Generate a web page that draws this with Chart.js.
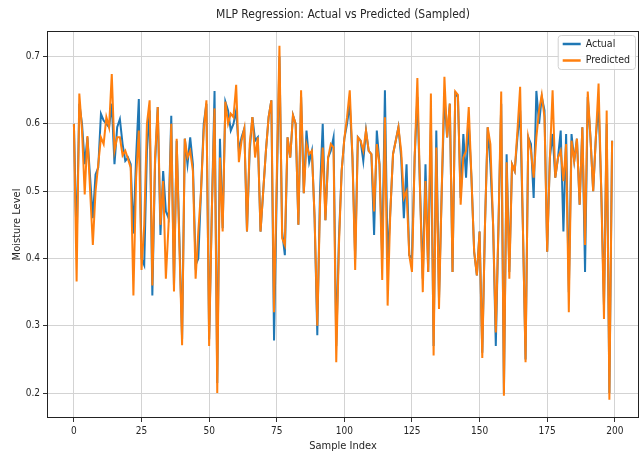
<!DOCTYPE html>
<html>
<head>
<meta charset="utf-8">
<script src="https://cdn.jsdelivr.net/npm/chart.js@4.4.1/dist/chart.umd.min.js"></script>
<style>
  html, body { margin: 0; padding: 0; background: #fff; }
</style>
</head>
<body>
<canvas id="mlpChart" width="640" height="455"></canvas>
<script>
// sample index 0..199
const sampleIndex = Array.from({ length: 200 }, (_, i) => i);

const actual = [
  0.600, 0.420, 0.630, 0.600, 0.540, 0.580, 0.520, 0.460, 0.525, 0.535,
  0.615, 0.605, 0.600, 0.595, 0.630, 0.540, 0.595, 0.607, 0.570, 0.545,
  0.550, 0.540, 0.437, 0.550, 0.637, 0.400, 0.390, 0.560, 0.620, 0.345,
  0.540, 0.625, 0.435, 0.530, 0.470, 0.460, 0.612, 0.360, 0.575, 0.430,
  0.280, 0.578, 0.540, 0.580, 0.540, 0.390, 0.400, 0.500, 0.600, 0.630,
  0.280, 0.470, 0.649, 0.215, 0.578, 0.445, 0.633, 0.620, 0.590, 0.600,
  0.620, 0.560, 0.580, 0.593, 0.440, 0.560, 0.610, 0.575, 0.580, 0.440,
  0.500, 0.560, 0.610, 0.635, 0.278, 0.500, 0.700, 0.440, 0.405, 0.580,
  0.550, 0.613, 0.600, 0.450, 0.640, 0.497, 0.590, 0.543, 0.560, 0.460,
  0.286, 0.500, 0.600, 0.457, 0.550, 0.560, 0.580, 0.270, 0.430, 0.530,
  0.578, 0.600, 0.630, 0.550, 0.400, 0.580, 0.575, 0.545, 0.590, 0.560,
  0.555, 0.435, 0.590, 0.540, 0.400, 0.650, 0.395, 0.470, 0.555, 0.575,
  0.595, 0.550, 0.460, 0.540, 0.405, 0.400, 0.550, 0.640, 0.500, 0.370,
  0.540, 0.380, 0.600, 0.270, 0.590, 0.340, 0.500, 0.640, 0.580, 0.630,
  0.380, 0.645, 0.640, 0.490, 0.585, 0.520, 0.600, 0.520, 0.410, 0.375,
  0.440, 0.260, 0.450, 0.595, 0.540, 0.450, 0.270, 0.450, 0.630, 0.200,
  0.555, 0.380, 0.540, 0.530, 0.580, 0.620, 0.450, 0.250, 0.580, 0.570,
  0.490, 0.649, 0.600, 0.640, 0.620, 0.410, 0.550, 0.585, 0.520, 0.550,
  0.590, 0.440, 0.585, 0.350, 0.585, 0.545, 0.578, 0.480, 0.595, 0.380,
  0.640, 0.580, 0.500, 0.580, 0.630, 0.500, 0.330, 0.600, 0.200, 0.575
];

const predicted = [
  0.600, 0.366, 0.645, 0.590, 0.495, 0.582, 0.500, 0.420, 0.500, 0.540,
  0.580, 0.570, 0.610, 0.595, 0.674, 0.560, 0.580, 0.580, 0.553, 0.560,
  0.548, 0.535, 0.345, 0.520, 0.590, 0.383, 0.450, 0.600, 0.635, 0.360,
  0.550, 0.625, 0.450, 0.515, 0.370, 0.450, 0.600, 0.351, 0.578, 0.420,
  0.271, 0.578, 0.550, 0.560, 0.530, 0.370, 0.440, 0.500, 0.590, 0.635,
  0.270, 0.470, 0.623, 0.200, 0.550, 0.440, 0.633, 0.600, 0.615, 0.610,
  0.658, 0.543, 0.575, 0.593, 0.440, 0.570, 0.610, 0.550, 0.580, 0.440,
  0.500, 0.560, 0.610, 0.635, 0.320, 0.520, 0.716, 0.430, 0.420, 0.580,
  0.550, 0.613, 0.600, 0.450, 0.650, 0.497, 0.570, 0.555, 0.560, 0.460,
  0.300, 0.480, 0.565, 0.457, 0.550, 0.570, 0.565, 0.246, 0.420, 0.530,
  0.578, 0.610, 0.650, 0.550, 0.383, 0.580, 0.575, 0.560, 0.590, 0.560,
  0.555, 0.470, 0.570, 0.540, 0.368, 0.610, 0.330, 0.470, 0.555, 0.575,
  0.595, 0.560, 0.490, 0.500, 0.405, 0.380, 0.550, 0.668, 0.500, 0.350,
  0.515, 0.380, 0.645, 0.256, 0.565, 0.325, 0.500, 0.670, 0.580, 0.630,
  0.380, 0.648, 0.643, 0.480, 0.550, 0.560, 0.625, 0.520, 0.410, 0.375,
  0.440, 0.252, 0.450, 0.595, 0.570, 0.450, 0.290, 0.450, 0.648, 0.196,
  0.543, 0.370, 0.540, 0.530, 0.590, 0.655, 0.450, 0.246, 0.580, 0.560,
  0.520, 0.580, 0.620, 0.643, 0.610, 0.410, 0.550, 0.650, 0.520, 0.550,
  0.560, 0.515, 0.570, 0.320, 0.575, 0.545, 0.578, 0.480, 0.595, 0.420,
  0.648, 0.580, 0.500, 0.580, 0.660, 0.500, 0.310, 0.620, 0.190, 0.575
];

const xTicks = [0, 25, 50, 75, 100, 125, 150, 175, 200];
const yTicks = [0.2, 0.3, 0.4, 0.5, 0.6, 0.7];
const chartTitle = "MLP Regression: Actual vs Predicted (Sampled)";

const FONT = '"DejaVu Sans Condensed", "DejaVu Sans", sans-serif';
const TEXT = "#262626";

// box round the plot area + title centred over it (matplotlib style)
const framePlugin = {
    id: "frame",
    afterDatasetsDraw(chart) {
        const { ctx, chartArea: a } = chart;
        ctx.save();
        ctx.strokeStyle = "#222";
        ctx.lineWidth = 1;
        ctx.strokeRect(a.left + 0.5, a.top + 0.5, a.right - a.left - 1, a.bottom - a.top - 1);
        ctx.font = "12px " + FONT;
        ctx.fillStyle = TEXT;
        ctx.textAlign = "center";
        ctx.textBaseline = "middle";
        ctx.fillText(chartTitle, (a.left + a.right) / 2, 15);
        ctx.restore();
    },
};

// legend box inside the top right corner
const boxLegend = {
    id: "boxLegend",
    afterDraw(chart) {
        const { ctx, chartArea: a } = chart;
        ctx.save();
        ctx.font = "10.5px " + FONT;
        const textW = Math.max(...chart.data.datasets.map((ds) => ctx.measureText(ds.label).width));
        const w = 28 + textW + 5, h = 34;
        const x = a.right - 4 - w, y = a.top + 4;
        ctx.beginPath();
        ctx.roundRect(x + 0.5, y + 0.5, w, h, 3);
        ctx.fillStyle = "rgba(255,255,255,0.85)";
        ctx.fill();
        ctx.strokeStyle = "#d0d0d0";
        ctx.lineWidth = 1;
        ctx.stroke();
        ctx.textBaseline = "middle";
        chart.data.datasets.forEach((ds, i) => {
            const ly = y + 9 + i * 16.5;
            ctx.strokeStyle = ds.borderColor;
            ctx.lineWidth = 2.5;
            ctx.beginPath();
            ctx.moveTo(x + 5, ly);
            ctx.lineTo(x + 23, ly);
            ctx.stroke();
            ctx.fillStyle = TEXT;
            ctx.fillText(ds.label, x + 28, ly);
        });
        ctx.restore();
    },
};

const ctx = document.getElementById("mlpChart").getContext("2d");

new Chart(ctx, {
    type: "line",
    data: {
        datasets: [
            {
                label: "Actual",
                data: sampleIndex.map((x, i) => ({ x: x, y: actual[i] })),
                borderColor: "#1f77b4",
                borderWidth: 2,
                order: 2, // drawn under Predicted
            },
            {
                label: "Predicted",
                data: sampleIndex.map((x, i) => ({ x: x, y: predicted[i] })),
                borderColor: "#ff7f0e",
                borderWidth: 2,
                order: 1,
            },
        ],
    },
    options: {
        responsive: false,
        animation: false,
        devicePixelRatio: 1,
        layout: { padding: { top: 31, right: 1, bottom: 0, left: 0 } },
        elements: { point: { radius: 0 }, line: { tension: 0 } },
        plugins: {
            legend: { display: false },
            tooltip: { enabled: false },
            title: { display: false },
        },
        scales: {
            x: {
                type: "linear",
                min: -9.95,
                max: 208.95,
                bounds: "data",
                afterBuildTicks: (s) => { s.ticks = xTicks.map((v) => ({ value: v })); },
                afterFit: (s) => { s.height = 37; },
                ticks: {
                    autoSkip: false,
                    maxRotation: 0,
                    padding: 3,
                    color: TEXT,
                    font: { family: FONT, size: 10 },
                },
                grid: { color: "#d3d3d3", tickColor: "#333", tickLength: 4 },
                border: { display: false },
                title: {
                    display: true,
                    text: "Sample Index",
                    color: TEXT,
                    font: { family: FONT, size: 11 },
                    padding: { top: 0, bottom: 2 },
                },
            },
            y: {
                min: 0.163,
                max: 0.738,
                bounds: "data",
                afterBuildTicks: (s) => { s.ticks = yTicks.map((v) => ({ value: v })); },
                afterFit: (s) => { s.width = 47; },
                ticks: {
                    autoSkip: false,
                    padding: 3,
                    color: TEXT,
                    font: { family: FONT, size: 10 },
                    callback: (v) => v.toFixed(1),
                },
                grid: { color: "#d3d3d3", tickColor: "#333", tickLength: 4 },
                border: { display: false },
                title: {
                    display: true,
                    text: "Moisture Level",
                    color: TEXT,
                    font: { family: FONT, size: 11 },
                    padding: { top: 11, bottom: 0 },
                },
            },
        },
    },
    plugins: [framePlugin, boxLegend],
});
</script>
</body>
</html>
